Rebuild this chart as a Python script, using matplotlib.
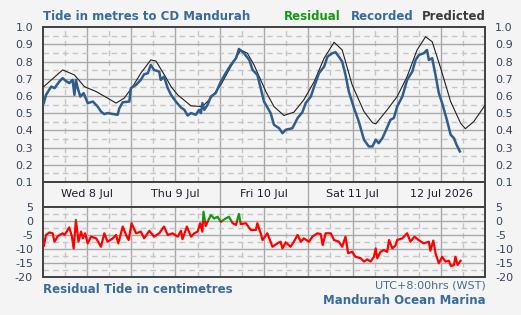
import matplotlib
matplotlib.use("Agg")
import matplotlib.pyplot as plt
from matplotlib.patches import Rectangle

# hours since Wed 8 Jul 00:00 (WST)
pred_t = [0.3, 5.4, 8.6, 11.3, 14.5, 17.6, 19.9, 22.1, 24.4, 26.6, 29.3, 30.7, 33.0, 34.8,
          36.6, 40.2, 43.3, 45.6, 48.3, 51.0, 53.7, 55.5, 57.3, 59.1, 60.5, 62.7, 65.4, 68.1,
          70.8, 73.6, 76.3, 79.0, 81.2, 83.9, 87.1, 89.4, 90.3, 93.4, 96.1, 98.8, 101.5,
          103.8, 105.6, 107.9, 110.6, 113.3, 114.6, 116.9, 120.0]
pred_m = [0.655, 0.752, 0.723, 0.655, 0.626, 0.588, 0.559, 0.588, 0.655, 0.733, 0.810, 0.804,
          0.723, 0.655, 0.607, 0.543, 0.539, 0.588, 0.665, 0.771, 0.868, 0.849, 0.781, 0.694,
          0.626, 0.539, 0.487, 0.506, 0.578, 0.684, 0.820, 0.913, 0.868, 0.665, 0.510, 0.445,
          0.438, 0.520, 0.597, 0.713, 0.868, 0.945, 0.916, 0.762, 0.568, 0.442, 0.410, 0.452,
          0.549]

rec_t = [0.3, 0.9, 2.3, 3.2, 4.5, 5.4, 6.3, 7.2, 8.1, 8.6, 9.0, 9.5, 10.2, 11.1, 12.2, 13.6,
         14.9, 15.8, 16.7, 17.6, 20.3, 20.8, 21.7, 23.5, 23.9, 25.3, 26.6, 27.5, 28.5, 29.3,
         30.2, 31.6, 32.0, 32.9, 33.9, 34.8, 36.1, 37.5, 38.4, 39.3, 40.2, 41.5, 42.4, 42.9,
         43.3, 43.8, 44.7, 45.6, 46.9, 48.3, 49.6, 51.0, 52.4, 53.2, 54.6, 56.0, 56.9, 58.2,
         59.1, 60.0, 61.8, 62.7, 64.1, 65.0, 65.9, 67.7, 69.1, 70.4, 71.3, 72.7, 73.6, 74.9,
         76.3, 77.2, 78.5, 79.4, 80.3, 81.2, 82.1, 83.0, 84.4, 85.7, 87.1, 88.4, 89.4, 90.3,
         91.1, 92.1, 93.0, 94.3, 95.2, 96.1, 97.5, 98.8, 100.2, 101.1, 102.0, 103.3, 104.2,
         104.7, 105.6, 106.5, 107.4, 108.3, 109.7, 110.6, 111.5, 112.2, 113.1]
rec_m = [0.559, 0.607, 0.655, 0.646, 0.684, 0.704, 0.688, 0.675, 0.694, 0.607, 0.694, 0.646,
         0.597, 0.617, 0.559, 0.568, 0.539, 0.510, 0.495, 0.501, 0.491, 0.530, 0.564, 0.568,
         0.646, 0.665, 0.694, 0.727, 0.733, 0.781, 0.752, 0.742, 0.694, 0.713, 0.646, 0.607,
         0.568, 0.533, 0.520, 0.487, 0.501, 0.491, 0.520, 0.501, 0.559, 0.520, 0.549, 0.597,
         0.617, 0.684, 0.733, 0.781, 0.820, 0.874, 0.849, 0.810, 0.752, 0.723, 0.646, 0.568,
         0.501, 0.433, 0.413, 0.384, 0.404, 0.413, 0.472, 0.506, 0.559, 0.597, 0.655, 0.733,
         0.771, 0.829, 0.849, 0.855, 0.829, 0.800, 0.723, 0.626, 0.530, 0.452, 0.346, 0.307,
         0.307, 0.346, 0.326, 0.355, 0.398, 0.462, 0.472, 0.539, 0.597, 0.694, 0.742, 0.810,
         0.839, 0.849, 0.868, 0.810, 0.820, 0.723, 0.617, 0.559, 0.452, 0.375, 0.355, 0.317,
         0.278]

res_t = [0.3, 0.9, 1.8, 2.7, 3.2, 4.1, 5.4, 5.9, 7.2, 7.9, 8.4, 9.0, 9.7, 10.4, 10.9, 11.5,
         12.2, 13.1, 14.5, 15.8, 16.7, 17.6, 19.0, 19.9, 20.5, 21.7, 22.6, 23.3, 24.1, 25.3,
         26.6, 27.5, 28.9, 30.2, 31.6, 32.9, 33.9, 35.2, 36.6, 37.5, 37.9, 39.1, 40.2, 41.1,
         42.0, 42.7, 43.3, 43.6, 44.2, 44.7, 45.6, 46.5, 47.4, 48.3, 49.6, 50.5, 51.5, 52.4,
         53.2, 53.7, 55.1, 56.4, 57.8, 58.2, 59.1, 59.6, 60.9, 62.3, 63.6, 64.5, 65.0, 65.9,
         67.2, 68.1, 69.1, 70.0, 70.8, 72.2, 73.1, 74.5, 75.4, 75.9, 76.7, 78.1, 79.0, 80.3,
         81.2, 82.1, 82.8, 83.9, 84.8, 86.2, 87.1, 88.0, 88.9, 89.8, 90.3, 90.7, 91.6, 92.5,
         93.4, 93.9, 94.8, 95.7, 96.1, 97.5, 98.8, 99.7, 100.8, 101.9, 103.3, 104.7, 105.1,
         105.9, 106.5, 107.4, 108.3, 109.2, 110.1, 110.7, 111.5, 111.9, 112.5, 113.3]
res_cm = [-9.0, -5.1, -4.2, -4.5, -7.5, -5.5, -4.5, -5.1, -2.4, -5.5, -9.9, 0.3, -7.5, -3.9,
          -6.3, -4.5, -8.1, -5.7, -6.3, -9.3, -4.5, -7.5, -6.3, -5.1, -8.1, -2.1, -5.1, -6.9,
          -0.9, -4.5, -3.9, -6.3, -3.6, -5.7, -4.5, -2.1, -5.1, -4.5, -5.7, -3.6, -6.6, -2.1,
          -5.7, -4.5, -3.9, -0.9, -3.9, 3.2, -1.9, -0.4, 2.0, 0.8, 1.4, -0.4, 0.8, 1.4, -0.9,
          -1.5, 2.4, -1.2, -0.9, -3.3, -3.3, -0.9, -4.5, -6.9, -4.5, -9.3, -8.1, -7.5, -9.9,
          -7.7, -9.3, -7.5, -5.1, -7.5, -6.3, -7.5, -5.7, -4.5, -4.8, -8.7, -4.5, -4.5, -6.9,
          -7.5, -9.3, -5.7, -11.6, -11.1, -12.9, -13.4, -14.6, -13.8, -14.6, -12.9, -9.9,
          -13.4, -11.1, -10.5, -11.1, -6.9, -9.9, -8.7, -6.9, -6.3, -4.5, -7.5, -5.7, -6.9,
          -8.1, -7.5, -10.7, -7.1, -11.6, -15.2, -12.9, -14.6, -14.3, -16.2, -15.8, -12.9,
          -15.8, -14.3]

day_pos = [12, 36, 60, 84, 108]
day_labels = ["Wed 8 Jul", "Thu 9 Jul", "Fri 10 Jul", "Sat 11 Jul", "12 Jul 2026"]

BG = "#f4f4f4"
BLUE = "#2f5d8c"
TITLE = "#3a6a9c"
TICK = "#34455a"
SPINE = "#404040"

fig = plt.figure(figsize=(5.21, 3.15), dpi=100, facecolor=BG)
W, H = 521.0, 315.0
x0, x1 = 42.7, 485.3


def box(top, bottom):
    # pixel rows -> figure fraction
    return [x0 / W, 1 - bottom / H, (x1 - x0) / W, (bottom - top) / H]


ax = fig.add_axes(box(27.3, 182.0))
band = fig.add_axes(box(182.0, 206.7))
axr = fig.add_axes(box(206.7, 276.7))


def grid(a, ymaj, ymin):
    for h in range(6, 120, 6):
        if h % 12 == 0:
            a.axvline(h, color="#a9a9a9", lw=1.0, zorder=1)
        else:
            a.axvline(h, color="#c6c6c6", lw=1.0, ls=(0, (4, 3)), zorder=1)
    for y in ymaj:
        a.axhline(y, color="#a9a9a9", lw=1.0, zorder=1)
    for y in ymin:
        a.axhline(y, color="#c6c6c6", lw=1.0, ls=(0, (4, 3)), zorder=1)


for a in (ax, band, axr):
    a.set_facecolor(BG)
    a.set_xlim(0, 120)
    a.set_xticks([])
    for s in a.spines.values():
        s.set_color(SPINE)
        s.set_linewidth(1.4)

# tide panel
ax.set_ylim(0.1, 1.0)
grid(ax, [0.2, 0.3, 0.4, 0.5, 0.6, 0.7, 0.8, 0.9], [0.15 + 0.1 * i for i in range(9)])
ax.plot(pred_t, pred_m, color="#202020", lw=0.8, zorder=3)
ax.plot(rec_t, rec_m, color=BLUE, lw=1.8, zorder=4)
yt = [0.1 * i for i in range(1, 11)]
ax.set_yticks(yt)
ax.set_yticklabels(["%.1f" % v for v in yt])
ax.tick_params(axis="y", length=0, labelsize=8, colors=TICK, pad=7,
               right=True, labelright=True)

# date band
band.set_ylim(0, 1)
band.set_yticks([])
for h in (24, 48, 72, 96):
    band.axvline(h, color="#a9a9a9", lw=1.0)
for p, lab in zip(day_pos, day_labels):
    band.text(p, 0.5, lab, ha="center", va="center", fontsize=8, color="#1e1e30")

# residual panel: red below zero, green above
axr.set_ylim(-20, 5)
grid(axr, [0, -5, -10, -15], [2.5, -2.5, -7.5, -12.5, -17.5])
red, = axr.plot(res_t, res_cm, color="#ff0000", lw=1.6, zorder=3)
green, = axr.plot(res_t, res_cm, color="#119911", lw=1.6, zorder=4)
red.set_clip_path(Rectangle((0, -20), 120, 20, transform=axr.transData))
green.set_clip_path(Rectangle((0, 0), 120, 5, transform=axr.transData))
rt = [5, 0, -5, -10, -15, -20]
axr.set_yticks(rt)
axr.set_yticklabels([str(v) for v in rt])
axr.tick_params(axis="y", length=0, labelsize=8, colors=TICK, pad=7,
                right=True, labelright=True)

# header / footer text
fig.text(x0 / W, 1 - 16 / H, "Tide in metres to CD Mandurah", fontsize=8.5,
         fontweight="bold", color=TITLE, ha="left", va="center")
fig.text(x1 / W, 1 - 16 / H, "Predicted", fontsize=8.5, fontweight="bold",
         color="#3c3c3c", ha="right", va="center")
fig.text(350.7 / W, 1 - 16 / H, "Recorded", fontsize=8.5, fontweight="bold",
         color=TITLE, ha="left", va="center")
fig.text(284 / W, 1 - 16 / H, "Residual", fontsize=8.5, fontweight="bold",
         color="#119911", ha="left", va="center")
fig.text(x0 / W, 1 - 289.5 / H, "Residual Tide in centimetres", fontsize=8.5,
         fontweight="bold", color=TITLE, ha="left", va="center")
fig.text(x1 / W, 1 - 285.5 / H, "UTC+8:00hrs (WST)", fontsize=8,
         color="#4a6a8c", ha="right", va="center")
fig.text(x1 / W, 1 - 300 / H, "Mandurah Ocean Marina", fontsize=8.5,
         fontweight="bold", color=TITLE, ha="right", va="center")

fig.savefig("out.png", dpi=100, facecolor=BG)
